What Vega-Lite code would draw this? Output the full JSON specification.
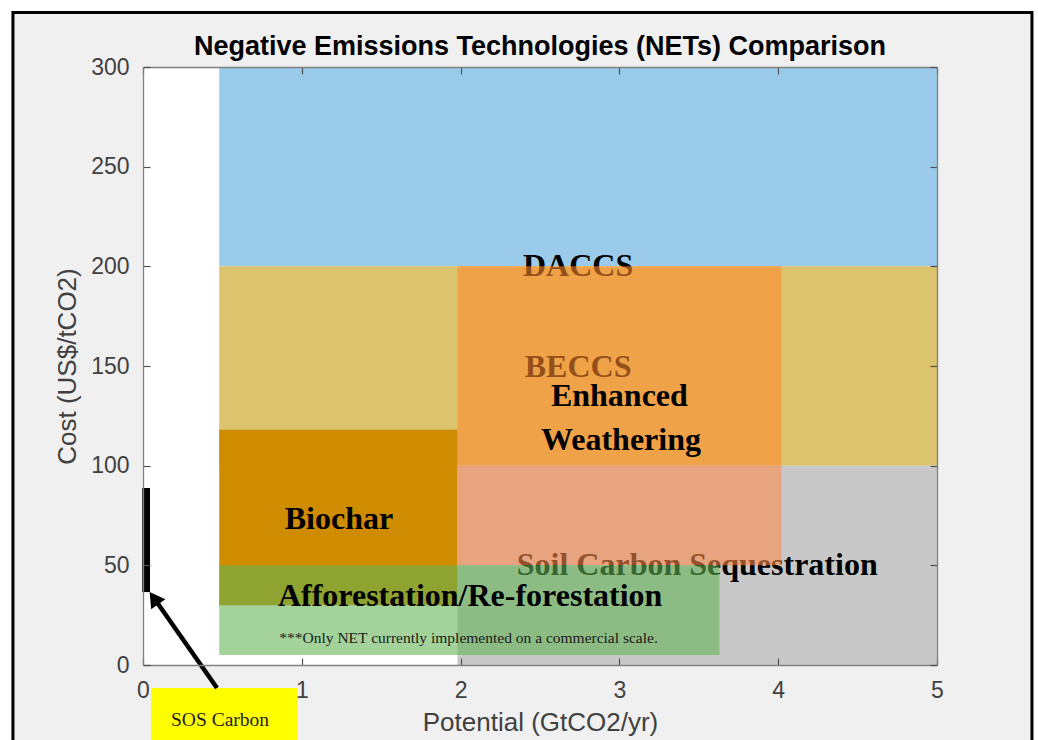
{
  "$schema": "https://vega.github.io/schema/vega-lite/v6.json",
  "width": 794,
  "height": 598,
  "autosize": {"type": "none"},
  "padding": {"left": 143, "top": 67, "right": 101, "bottom": 75},
  "background": "white",
  "config": {"view": {"stroke": null}, "font": "Liberation Sans"},
  "title": {
    "text": "Negative Emissions Technologies (NETs) Comparison",
    "font": "Liberation Sans",
    "fontSize": 27,
    "fontWeight": "bold",
    "color": "black",
    "anchor": "middle",
    "frame": "group",
    "offset": 9,
    "dy": 59
  },
  "datasets": {
    "frame": [{"x_lo": -0.819, "x_hi": 5.598, "y_lo": -60, "y_hi": 327.4}],
    "plotarea": [{"x_lo": 0, "x_hi": 5, "y_lo": 0, "y_hi": 300}],
    "regions": [
      {"region": "DACCS", "kind": "base", "x_lo": 0.48, "x_hi": 5, "y_lo": 200, "y_hi": 300},
      {"region": "BECCS", "kind": "base", "x_lo": 0.48, "x_hi": 5, "y_lo": 100, "y_hi": 200},
      {"region": "Soil Carbon Sequestration", "kind": "base", "x_lo": 1.98, "x_hi": 5, "y_lo": 0, "y_hi": 100},
      {"region": "Biochar", "kind": "base", "x_lo": 0.48, "x_hi": 1.98, "y_lo": 30, "y_hi": 118},
      {"region": "Enhanced Weathering", "kind": "overlay", "x_lo": 1.98, "x_hi": 4.02, "y_lo": 100, "y_hi": 200},
      {"region": "Enhanced Weathering / Soil Carbon", "kind": "overlay", "x_lo": 1.98, "x_hi": 4.02, "y_lo": 50, "y_hi": 100},
      {"region": "Afforestation/Re-forestation", "kind": "overlay", "x_lo": 0.48, "x_hi": 3.63, "y_lo": 5, "y_hi": 50}
    ],
    "labels": [
      {"label": "DACCS", "kind": "under", "x": 2.74, "y": 200},
      {"label": "BECCS", "kind": "under", "x": 2.74, "y": 149.5},
      {"label": "Soil Carbon Sequestration", "kind": "under", "x": 3.49, "y": 50},
      {"label": "Enhanced", "kind": "over", "x": 3.0, "y": 135},
      {"label": "Weathering", "kind": "over", "x": 3.01, "y": 113},
      {"label": "Biochar", "kind": "over", "x": 1.234, "y": 73},
      {"label": "Afforestation/Re-forestation", "kind": "over", "x": 2.06, "y": 34.6}
    ],
    "note": [{"label": "***Only NET currently implemented on a commercial scale.", "x": 2.05, "y": 13.5}],
    "sosbar": [{"x_lo": -0.005, "x_hi": 0.044, "y_lo": 36.6, "y_hi": 88.8}],
    "sosbox": [{"label": "SOS Carbon", "x_lo": 0.05, "x_hi": 0.97, "y_lo": -60, "y_hi": -11.5, "x": 0.485, "y": -27.6}],
    "arrow": [{"x_from": 0.466, "y_from": -11.5, "x_to": 0.069, "y_to": 33.6}]
  },
  "layer": [
    {
      "data": {"name": "frame"},
      "mark": {"type": "rect", "fill": "#F0F0F0", "stroke": "black", "strokeWidth": 3},
      "encoding": {
        "x": {"field": "x_lo", "type": "quantitative", "scale": {"domain": [0, 5], "nice": false, "zero": false}, "axis": null},
        "x2": {"field": "x_hi"},
        "y": {"field": "y_lo", "type": "quantitative", "scale": {"domain": [0, 300], "nice": false, "zero": false}, "axis": null},
        "y2": {"field": "y_hi"}
      }
    },
    {
      "data": {"name": "plotarea"},
      "mark": {"type": "rect", "fill": "white"},
      "encoding": {
        "x": {
          "field": "x_lo", "type": "quantitative",
          "axis": {
            "orient": "bottom", "values": [0, 1, 2, 3, 4, 5], "title": "Potential (GtCO2/yr)",
            "grid": false, "zindex": 1, "domainColor": "#808080", "domainWidth": 1.3,
            "tickColor": "#505050", "tickSize": -7, "tickWidth": 1.2,
            "labelFlush": false, "labelFont": "Liberation Sans", "labelFontSize": 23, "labelColor": "#404040", "labelPadding": 21,
            "titleFont": "Liberation Sans", "titleFontSize": 26, "titleFontWeight": "normal", "titleColor": "#404040", "titlePadding": 7
          }
        },
        "x2": {"field": "x_hi"},
        "y": {
          "field": "y_lo", "type": "quantitative",
          "axis": {
            "orient": "left", "values": [0, 50, 100, 150, 200, 250, 300], "title": "Cost (US$/tCO2)",
            "grid": false, "zindex": 1, "domainColor": "#808080", "domainWidth": 1.3,
            "tickColor": "#505050", "tickSize": -7, "tickWidth": 1.2,
            "labelFlush": false, "labelFont": "Liberation Sans", "labelFontSize": 23, "labelColor": "#404040", "labelPadding": 21,
            "titleFont": "Liberation Sans", "titleFontSize": 26, "titleFontWeight": "normal", "titleColor": "#404040", "titlePadding": 10
          }
        },
        "y2": {"field": "y_hi"}
      }
    },
    {
      "data": {"name": "regions"},
      "transform": [{"filter": "datum.kind === 'base'"}],
      "mark": {"type": "rect"},
      "encoding": {
        "x": {
          "field": "x_lo", "type": "quantitative",
          "axis": {
            "orient": "top", "values": [0, 1, 2, 3, 4, 5], "labels": false, "title": null,
            "grid": false, "zindex": 1, "domainColor": "#808080", "domainWidth": 1.3,
            "tickColor": "#505050", "tickSize": -7, "tickWidth": 1.2
          }
        },
        "x2": {"field": "x_hi"},
        "y": {
          "field": "y_lo", "type": "quantitative",
          "axis": {
            "orient": "right", "values": [0, 50, 100, 150, 200, 250, 300], "labels": false, "title": null,
            "grid": false, "zindex": 1, "domainColor": "#808080", "domainWidth": 1.3,
            "tickColor": "#505050", "tickSize": -7, "tickWidth": 1.2
          }
        },
        "y2": {"field": "y_hi"},
        "color": {
          "field": "region", "type": "nominal", "legend": null,
          "scale": {
            "domain": ["DACCS", "BECCS", "Soil Carbon Sequestration", "Biochar", "Enhanced Weathering", "Enhanced Weathering / Soil Carbon", "Afforestation/Re-forestation"],
            "range": ["#9BCBEA", "#DCC36E", "#C8C8C8", "#D08C00", "#FF8A2D", "#FF8A48", "#61B352"]
          }
        }
      }
    },
    {
      "data": {"name": "labels"},
      "transform": [{"filter": "datum.kind === 'under'"}],
      "mark": {"type": "text", "font": "Liberation Serif", "fontWeight": "bold", "fontSize": 32, "align": "center", "baseline": "middle", "color": "black"},
      "encoding": {
        "x": {"field": "x", "type": "quantitative", "axis": null},
        "y": {"field": "y", "type": "quantitative", "axis": null},
        "text": {"field": "label"}
      }
    },
    {
      "data": {"name": "regions"},
      "transform": [{"filter": "datum.kind === 'overlay'"}],
      "mark": {"type": "rect", "opacity": 0.58},
      "encoding": {
        "x": {"field": "x_lo", "type": "quantitative", "axis": null},
        "x2": {"field": "x_hi"},
        "y": {"field": "y_lo", "type": "quantitative", "axis": null},
        "y2": {"field": "y_hi"},
        "color": {
          "field": "region", "type": "nominal", "legend": null,
          "scale": {
            "domain": ["DACCS", "BECCS", "Soil Carbon Sequestration", "Biochar", "Enhanced Weathering", "Enhanced Weathering / Soil Carbon", "Afforestation/Re-forestation"],
            "range": ["#9BCBEA", "#DCC36E", "#C8C8C8", "#D08C00", "#FF8A2D", "#FF8A48", "#61B352"]
          }
        }
      }
    },
    {
      "data": {"name": "labels"},
      "transform": [{"filter": "datum.kind === 'over'"}],
      "mark": {"type": "text", "font": "Liberation Serif", "fontWeight": "bold", "fontSize": 32, "align": "center", "baseline": "middle", "color": "black"},
      "encoding": {
        "x": {"field": "x", "type": "quantitative", "axis": null},
        "y": {"field": "y", "type": "quantitative", "axis": null},
        "text": {"field": "label"}
      }
    },
    {
      "data": {"name": "note"},
      "mark": {"type": "text", "font": "Liberation Serif", "fontSize": 15.5, "align": "center", "baseline": "middle", "color": "#1a1a1a"},
      "encoding": {
        "x": {"field": "x", "type": "quantitative", "axis": null},
        "y": {"field": "y", "type": "quantitative", "axis": null},
        "text": {"field": "label"}
      }
    },
    {
      "data": {"name": "sosbar"},
      "mark": {"type": "rect", "fill": "black"},
      "encoding": {
        "x": {"field": "x_lo", "type": "quantitative", "axis": null},
        "x2": {"field": "x_hi"},
        "y": {"field": "y_lo", "type": "quantitative", "axis": null},
        "y2": {"field": "y_hi"}
      }
    },
    {
      "data": {"name": "sosbox"},
      "mark": {"type": "rect", "fill": "#FFFF00"},
      "encoding": {
        "x": {"field": "x_lo", "type": "quantitative", "axis": null},
        "x2": {"field": "x_hi"},
        "y": {"field": "y_lo", "type": "quantitative", "axis": null},
        "y2": {"field": "y_hi"}
      }
    },
    {
      "data": {"name": "sosbox"},
      "mark": {"type": "text", "font": "Liberation Serif", "fontSize": 19.5, "align": "center", "baseline": "middle", "color": "#222222"},
      "encoding": {
        "x": {"field": "x", "type": "quantitative", "axis": null},
        "y": {"field": "y", "type": "quantitative", "axis": null},
        "text": {"field": "label"}
      }
    },
    {
      "data": {"name": "arrow"},
      "mark": {"type": "rule", "color": "black", "strokeWidth": 4.5},
      "encoding": {
        "x": {"field": "x_from", "type": "quantitative", "axis": null},
        "y": {"field": "y_from", "type": "quantitative", "axis": null},
        "x2": {"field": "x_to"},
        "y2": {"field": "y_to"}
      }
    },
    {
      "data": {"name": "arrow"},
      "mark": {"type": "point", "shape": "triangle-up", "filled": true, "color": "black", "opacity": 1, "size": 300, "angle": 325},
      "encoding": {
        "x": {"field": "x_to", "type": "quantitative", "axis": null},
        "y": {"field": "y_to", "type": "quantitative", "axis": null}
      }
    }
  ],
  "resolve": {"axis": {"x": "independent", "y": "independent"}}
}
